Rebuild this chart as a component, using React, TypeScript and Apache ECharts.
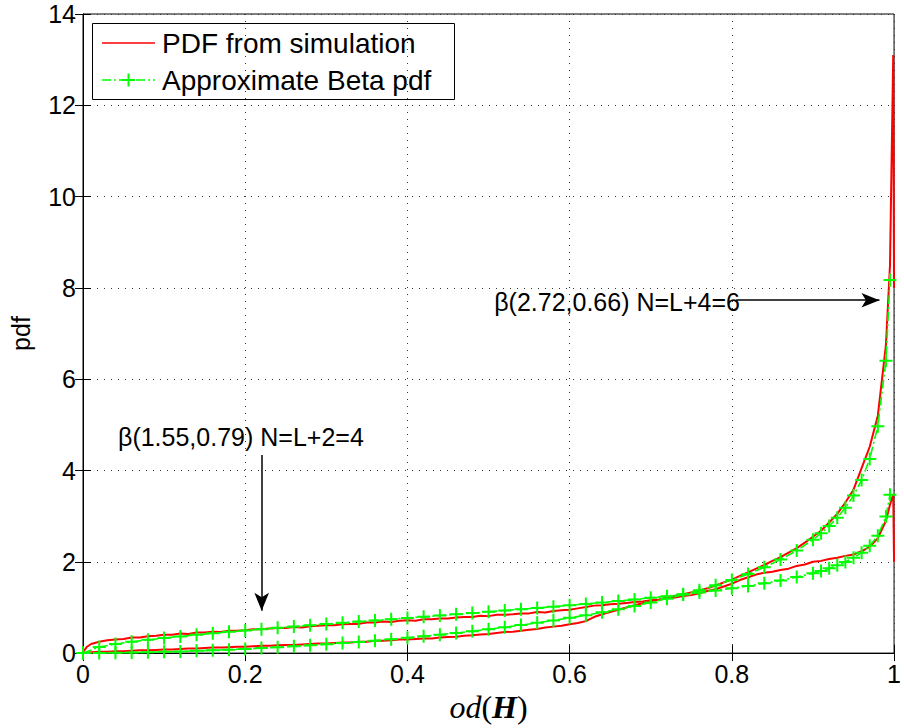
import React, { useEffect, useRef } from 'react';
import * as echarts from 'echarts';

// simulation histogram (red)
const simX = [0, 0.005, 0.01, 0.02, 0.03, 0.04, 0.05, 0.06, 0.07, 0.08, 0.09, 0.1, 0.11, 0.12, 0.13, 0.14, 0.15, 0.16, 0.17, 0.18, 0.19, 0.2, 0.21, 0.22, 0.23, 0.24, 0.25, 0.26, 0.27, 0.28, 0.29, 0.3, 0.31, 0.32, 0.33, 0.34, 0.35, 0.36, 0.37, 0.38, 0.39, 0.4, 0.41, 0.42, 0.43, 0.44, 0.45, 0.46, 0.47, 0.48, 0.49, 0.5, 0.51, 0.52, 0.53, 0.54, 0.55, 0.56, 0.57, 0.58, 0.59, 0.6, 0.61, 0.62, 0.63, 0.64, 0.65, 0.66, 0.67, 0.68, 0.69, 0.7, 0.71, 0.72, 0.73, 0.74, 0.75, 0.76, 0.77, 0.78, 0.79, 0.8, 0.81, 0.82, 0.83, 0.84, 0.85, 0.86, 0.87, 0.88, 0.89, 0.9, 0.91, 0.92, 0.93, 0.94, 0.95, 0.96, 0.97, 0.98, 0.99, 0.995, 0.999, 1];
// N=L+4=6 simulation
const simA = [0, 0.01, 0.02, 0.03, 0.03, 0.04, 0.04, 0.05, 0.06, 0.06, 0.07, 0.08, 0.08, 0.09, 0.1, 0.1, 0.11, 0.12, 0.12, 0.13, 0.14, 0.14, 0.15, 0.16, 0.16, 0.17, 0.18, 0.18, 0.19, 0.2, 0.21, 0.21, 0.22, 0.23, 0.23, 0.25, 0.25, 0.27, 0.27, 0.28, 0.3, 0.3, 0.31, 0.32, 0.32, 0.34, 0.35, 0.36, 0.38, 0.39, 0.41, 0.42, 0.44, 0.46, 0.47, 0.49, 0.51, 0.53, 0.56, 0.58, 0.6, 0.63, 0.66, 0.7, 0.79, 0.85, 0.9, 0.95, 1.0, 1.05, 1.09, 1.13, 1.17, 1.22, 1.25, 1.29, 1.33, 1.37, 1.42, 1.48, 1.55, 1.61, 1.69, 1.77, 1.85, 1.93, 2.02, 2.1, 2.2, 2.3, 2.42, 2.55, 2.68, 2.86, 3.05, 3.3, 3.58, 4.05, 4.52, 5.2, 6.75, 8.5, 13.1, 8.0];
// N=L+2=4 simulation
const simB = [0.02, 0.14, 0.2, 0.25, 0.28, 0.3, 0.31, 0.34, 0.34, 0.37, 0.38, 0.4, 0.4, 0.43, 0.42, 0.45, 0.45, 0.47, 0.46, 0.49, 0.49, 0.5, 0.52, 0.52, 0.54, 0.55, 0.55, 0.57, 0.56, 0.59, 0.6, 0.61, 0.61, 0.63, 0.64, 0.64, 0.67, 0.67, 0.69, 0.68, 0.71, 0.72, 0.71, 0.74, 0.74, 0.76, 0.76, 0.78, 0.79, 0.79, 0.82, 0.81, 0.84, 0.84, 0.85, 0.87, 0.87, 0.9, 0.89, 0.92, 0.94, 0.95, 0.98, 1.01, 1.04, 1.05, 1.07, 1.08, 1.1, 1.12, 1.13, 1.16, 1.17, 1.2, 1.22, 1.25, 1.27, 1.31, 1.36, 1.4, 1.46, 1.52, 1.6, 1.66, 1.72, 1.76, 1.78, 1.82, 1.85, 1.91, 1.94, 2.0, 2.02, 2.06, 2.09, 2.13, 2.16, 2.23, 2.33, 2.52, 2.9, 3.25, 3.48, 2.0];

// approximate Beta pdf (green markers)
const markX = [0, 0.02, 0.04, 0.06, 0.08, 0.1, 0.12, 0.14, 0.16, 0.18, 0.2, 0.22, 0.24, 0.26, 0.28, 0.3, 0.32, 0.34, 0.36, 0.38, 0.4, 0.42, 0.44, 0.46, 0.48, 0.5, 0.52, 0.54, 0.56, 0.58, 0.6, 0.62, 0.64, 0.66, 0.68, 0.7, 0.72, 0.74, 0.76, 0.78, 0.8, 0.82, 0.84, 0.86, 0.88, 0.9, 0.91, 0.92, 0.93, 0.94, 0.95, 0.96, 0.97, 0.98, 0.99, 0.995];
const betaA = [0, 0.002, 0.005, 0.011, 0.018, 0.027, 0.037, 0.049, 0.062, 0.076, 0.092, 0.11, 0.128, 0.149, 0.17, 0.194, 0.219, 0.245, 0.273, 0.303, 0.335, 0.368, 0.404, 0.441, 0.481, 0.523, 0.567, 0.614, 0.664, 0.716, 0.772, 0.831, 0.894, 0.961, 1.033, 1.11, 1.192, 1.282, 1.379, 1.485, 1.603, 1.733, 1.88, 2.049, 2.246, 2.484, 2.624, 2.783, 2.967, 3.185, 3.45, 3.79, 4.254, 4.971, 6.402, 8.174];
const betaB = [0, 0.134, 0.197, 0.247, 0.29, 0.33, 0.366, 0.401, 0.433, 0.465, 0.495, 0.524, 0.553, 0.581, 0.609, 0.636, 0.663, 0.69, 0.716, 0.743, 0.77, 0.796, 0.823, 0.85, 0.877, 0.904, 0.932, 0.96, 0.988, 1.018, 1.047, 1.078, 1.109, 1.142, 1.176, 1.211, 1.248, 1.287, 1.328, 1.372, 1.419, 1.471, 1.528, 1.592, 1.665, 1.751, 1.801, 1.858, 1.922, 1.997, 2.087, 2.2, 2.35, 2.573, 2.993, 3.471];

const legendNames = ['PDF from simulation', 'Approximate Beta pdf'];
const annoTexts = ['β(1.55,0.79) N=L+2=4', 'β(2.72,0.66) N=L+4=6'];

const SANS = '"Liberation Sans", Arial, Helvetica, sans-serif';
const SERIF = '"Liberation Serif", "Times New Roman", serif';

export default function App() {
  const ref = useRef<HTMLDivElement>(null);
  useEffect(() => {
    const chart = echarts.init(ref.current!, null, { renderer: 'svg' });
    const pair = (xs: number[], ys: number[]) => xs.map((x, i) => [x, ys[i]]);
    const plus = 'path://M0,5L10,5M5,0L5,10';
    const axisCommon = {
      type: 'value',
      axisLine: { show: true, lineStyle: { color: '#000', width: 1 } },
      axisTick: { show: true, inside: true, length: 8, lineStyle: { color: '#000' } },
    };
    const option: any = {
      animation: false,
      grid: { left: 82, top: 14, right: 5, bottom: 69, show: true, borderColor: '#000', borderWidth: 1, backgroundColor: '#fff' },
      xAxis: [
        {
          ...axisCommon,
          min: 0, max: 1, interval: 0.2,
          position: 'bottom',
          axisLabel: { color: '#000', fontSize: 25, fontFamily: SANS, margin: 8 },
          splitLine: { show: true, lineStyle: { color: '#333', width: 1, type: [1, 6] } },
          name: '{i|od}{p|(}{b|H}{p|)}',
          nameLocation: 'middle',
          nameGap: 36,
          nameTextStyle: {
            rich: {
              i: { fontFamily: SERIF, fontStyle: 'italic', fontSize: 32, color: '#000' },
              p: { fontFamily: SERIF, fontSize: 32, color: '#000' },
              b: { fontFamily: SERIF, fontStyle: 'italic', fontWeight: 'bold', fontSize: 32, color: '#000' },
            },
          },
        },
        {
          ...axisCommon,
          min: 0, max: 1, interval: 0.2,
          position: 'top',
          axisLabel: { show: false },
          splitLine: { show: false },
        },
      ],
      yAxis: [
        {
          ...axisCommon,
          min: 0, max: 14, interval: 2,
          position: 'left',
          axisLabel: { color: '#000', fontSize: 25, fontFamily: SANS, margin: 7 },
          splitLine: { show: true, lineStyle: { color: '#333', width: 1, type: [1, 6] } },
          name: 'pdf',
          nameLocation: 'middle',
          nameGap: 50,
          nameTextStyle: { color: '#000', fontSize: 25, fontFamily: SANS },
        },
        {
          ...axisCommon,
          min: 0, max: 14, interval: 2,
          position: 'right',
          axisLabel: { show: false },
          splitLine: { show: false },
        },
      ],
      series: [
        {
          name: legendNames[0], type: 'line', data: pair(simX, simA), showSymbol: false, symbol: 'none',
          lineStyle: { color: '#ff0000', width: 2 }, z: 2,
        },
        {
          name: legendNames[0], type: 'line', data: pair(simX, simB), showSymbol: false, symbol: 'none',
          lineStyle: { color: '#ff0000', width: 2 }, z: 2,
        },
        {
          name: legendNames[1], type: 'line', data: pair(markX, betaA), symbol: plus, symbolSize: 13, showAllSymbol: true,
          itemStyle: { color: '#00ff00', borderColor: '#00ff00', borderWidth: 2 },
          lineStyle: { color: '#00ff00', width: 1.6, type: [9, 3, 2, 3] }, z: 3,
          markLine: {
            silent: true, animation: false,
            symbol: ['none', 'arrow'], symbolSize: [11, 18],
            lineStyle: { color: '#000', width: 1.5, type: 'solid' },
            itemStyle: { color: '#000' },
            label: { show: false },
            emphasis: { disabled: true },
            data: [
              [{ coord: [0.2203, 4.34] }, { coord: [0.2203, 0.93] }],
              [{ coord: [0.8054, 7.73] }, { coord: [0.982, 7.73] }],
            ],
          },
        },
        {
          name: legendNames[1], type: 'line', data: pair(markX, betaB), symbol: plus, symbolSize: 13, showAllSymbol: true,
          itemStyle: { color: '#00ff00', borderColor: '#00ff00', borderWidth: 2 },
          lineStyle: { color: '#00ff00', width: 1.6, type: [9, 3, 2, 3] }, z: 3,
        },
      ],
      graphic: [
        {
          type: 'group', z: 100,
          children: [
            { type: 'rect', shape: { x: 92.5, y: 23.5, width: 362, height: 76 }, style: { fill: '#fff', stroke: '#000', lineWidth: 1 } },
            { type: 'line', shape: { x1: 102, y1: 43, x2: 155, y2: 43 }, style: { stroke: '#ff0000', lineWidth: 1.6 } },
            { type: 'text', x: 162, y: 43, style: { text: legendNames[0], fontSize: 28, fontFamily: SANS, fill: '#000', verticalAlign: 'middle' } },
            { type: 'line', shape: { x1: 102, y1: 80, x2: 155, y2: 80 }, style: { stroke: '#00ff00', lineWidth: 1.6, lineDash: [9, 3, 2, 3] } },
            { type: 'line', shape: { x1: 122, y1: 80, x2: 135, y2: 80 }, style: { stroke: '#00ff00', lineWidth: 2 } },
            { type: 'line', shape: { x1: 128.5, y1: 73.5, x2: 128.5, y2: 86.5 }, style: { stroke: '#00ff00', lineWidth: 2 } },
            { type: 'text', x: 162, y: 80, style: { text: legendNames[1], fontSize: 28, fontFamily: SANS, fill: '#000', verticalAlign: 'middle' } },
          ],
        },
        { type: 'text', x: 118, y: 437, z: 100, style: { text: annoTexts[0], fontSize: 25, fontFamily: SANS, fill: '#000', verticalAlign: 'middle' } },
        { type: 'text', x: 740, y: 302, z: 100, style: { text: annoTexts[1], fontSize: 25, fontFamily: SANS, fill: '#000', verticalAlign: 'middle', align: 'right' } },
      ],
    };
    chart.setOption(option);
    return () => chart.dispose();
  }, []);
  return <div ref={ref} style={{ position: 'absolute', left: 0, top: 0, width: 904, height: 728, background: '#fff' }} />;
}
